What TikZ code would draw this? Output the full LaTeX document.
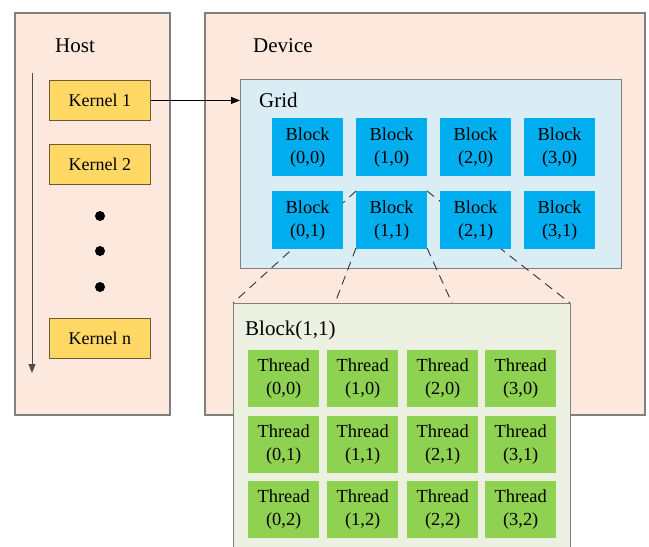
\documentclass[tikz,border=0pt]{standalone}
\usepackage{fontspec}
\setmainfont{Liberation Serif}
\usetikzlibrary{arrows.meta}
\definecolor{peach}{HTML}{FCE8DC}
\definecolor{kyellow}{HTML}{FFD865}
\definecolor{kborder}{HTML}{6E5A30}
\definecolor{gridblue}{HTML}{DAEDF4}
\definecolor{blockblue}{HTML}{00ADEE}
\definecolor{lgreen}{HTML}{EBF0E0}
\definecolor{tgreen}{HTML}{8FD150}
\definecolor{frame}{HTML}{808080}
\tikzset{
  panel/.style={draw=frame, line width=1.2pt, fill=peach},
  region/.style={draw=frame, line width=1.2pt},
  kernelbox/.style={draw=kborder, line width=0.9pt, fill=kyellow, minimum width=101pt, minimum height=40pt, inner sep=0pt, anchor=north west, font=\fontsize{18}{20}\selectfont},
  blockbox/.style={fill=blockblue, minimum width=71pt, minimum height=58pt, inner sep=0pt, anchor=north west, align=center, font=\fontsize{18.4}{23}\selectfont},
  threadbox/.style={fill=tgreen, minimum width=71pt, minimum height=57pt, inner sep=0pt, anchor=north west, align=center, font=\fontsize{18.4}{23}\selectfont},
  title/.style={anchor=west, inner sep=0pt, font=\fontsize{21}{24}\selectfont},
  dashline/.style={dash pattern=on 9pt off 6pt, line width=0.9pt, color=black!80},
  dot/.style={circle, fill=black, minimum size=10pt, inner sep=0pt}
}
\begin{document}
\begin{tikzpicture}[x=1pt, y=-1pt]
\useasboundingbox (0,0) rectangle (649,547);
\clip (0,0) rectangle (649,547);
% panels
\draw[panel] (15,13) rectangle (170,415);
\draw[panel] (205,13) rectangle (645,415);
\node[title] (host) at (55,46) {Host};
\node[title] (device) at (253,46) {Device};
% time arrow
\coordinate (tstart) at (32,73);
\coordinate (tend) at (32,373);
\draw[line width=0.9pt, color=black!70, -{Triangle[length=9pt,width=7pt]}] (tstart) -- (tend);
% kernels
\node[kernelbox] (k1) at (49,80) {Kernel 1};
\node[kernelbox] (k2) at (49,144) {Kernel 2};
\node[kernelbox] (kn) at (49,318) {Kernel n};
\node[dot] (d1) at (100,216) {};
\node[dot] (d2) at (100,251) {};
\node[dot] (d3) at (100,287) {};
% grid
\node[region, fill=gridblue, minimum width=381pt, minimum height=189pt, anchor=north west, inner sep=0pt] (grid) at (240,79) {};
\node[title] (gridlabel) at (259,100) {Grid};
\draw[line width=0.9pt, -{Triangle[length=9pt,width=7pt]}] (k1.east) -- (grid.west |- k1.east);
% big block box (behind dashes drawn first)
\coordinate (bbtl) at (233,303);
\coordinate (bbtr) at (570,303);
\coordinate (bbml) at (335,303);
\coordinate (bbmr) at (452,303);
% block coords for dashes
\coordinate (b11nw) at (356,191);
\coordinate (b11ne) at (427,191);
\coordinate (b11sw) at (356,248);
\coordinate (b11se) at (427,248);
\draw[dashline] (b11nw) -- (bbtl);
\draw[dashline] (b11ne) -- (bbtr);
\draw[dashline] (b11sw) -- (bbml);
\draw[dashline] (b11se) -- (bbmr);
% blocks
\foreach \i/\x in {0/272,1/356,2/440,3/524}{
  \node[blockbox] (b\i0) at (\x,118) {Block\\(\i,0)};
  \node[blockbox] (b\i1) at (\x,191) {Block\\(\i,1)};
}
% block(1,1) expanded
\node[region, fill=lgreen, minimum width=337pt, minimum height=260pt, anchor=north west, inner sep=0pt] (bigblock) at (233,303) {};
\node[title] (bblabel) at (245,330) {Block(1,1)};
\foreach \i/\x in {0/248,1/327,2/407,3/485}{
  \node[threadbox] (t\i0) at (\x,350) {Thread\\(\i,0)};
  \node[threadbox] (t\i1) at (\x,416) {Thread\\(\i,1)};
  \node[threadbox] (t\i2) at (\x,481) {Thread\\(\i,2)};
}
\end{tikzpicture}
\end{document}
